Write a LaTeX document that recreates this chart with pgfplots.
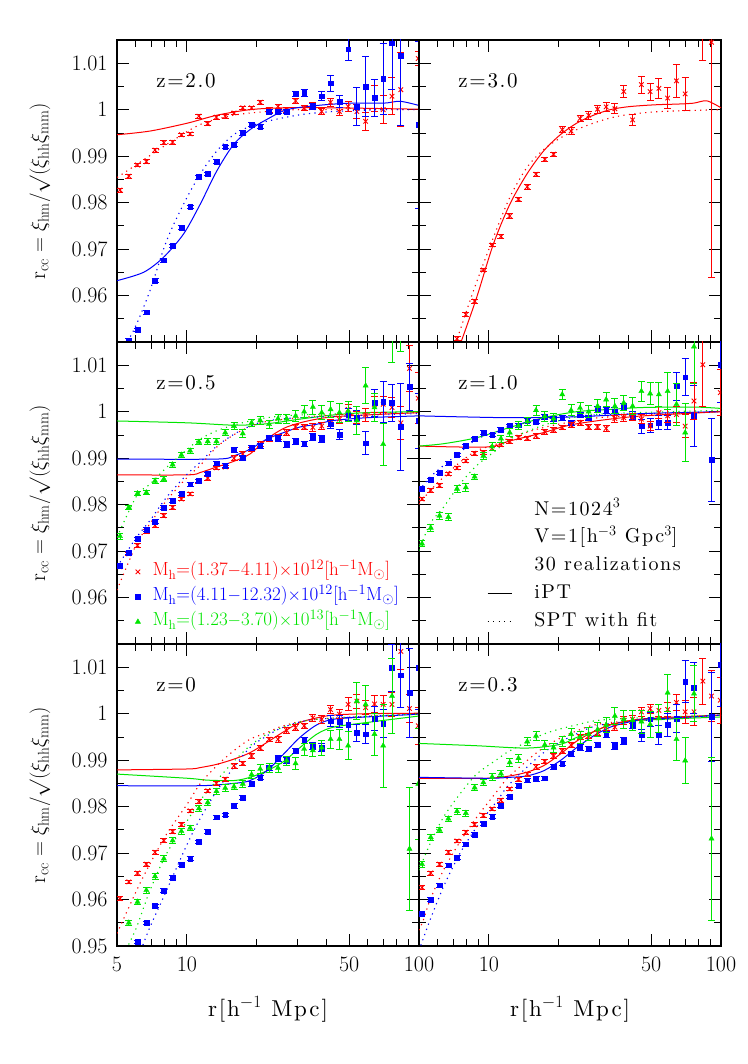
\documentclass[border=0pt]{standalone}
\usepackage{fontspec}
\newfontfamily\spaced{lmroman10-regular.otf}[LetterSpace=8]
\usepackage{pgfplots}
\pgfplotsset{compat=1.18}
\definecolor{cR}{rgb}{1,0,0}
\definecolor{cB}{rgb}{0,0,1}
\definecolor{cG}{rgb}{0,0.9,0}
\pgfplotsset{
  myPanel/.style={
    scale only axis, width=302pt, height=302pt, anchor=south west,
    xmin=5, xmax=100, ymin=0.95, ymax=1.015,
    xtick={5,10,50,100}, minor xtick={6,7,8,9,20,30,40,60,70,80,90},
    ytick={0.95,0.96,0.97,0.98,0.99,1,1.01},
    minor ytick={0.955,0.965,0.975,0.985,0.995,1.005},
    tick align=inside, xtick pos=both, ytick pos=both,
    major tick length=12pt, minor tick length=7pt,
    every tick/.style={black, line width=0.8pt},
    axis line style={line width=1.2pt},
    tick label style={font=\fontsize{22}{26}\selectfont},
    xticklabel style={yshift=-7pt},
    yticklabel style={xshift=-6pt},
    label style={font=\fontsize{22}{26}\selectfont},
    xticklabels={}, yticklabels={},
    clip marker paths=true,
  },
  myXlab/.style={xlabel={\spaced\fontsize{23}{26}\selectfont r[h$^{-1}$ Mpc]}, xlabel style={at={(axis description cs:0.5,-0.21)}, anchor=center}},
  myYlab/.style={ylabel={$\mathrm{r_{cc}}=\xi_{\mathrm{hm}}/\surd\bigl(\xi_{\mathrm{hh}}\xi_{\mathrm{mm}}\bigr)$},
     ylabel style={at={(axis description cs:-0.255,0.5)}, anchor=center}},
  mySR/.style={only marks, mark=x, mark size=3.2pt, color=cR, mark options={line width=0.9pt, solid}},
  mySB/.style={only marks, mark=square*, mark size=2.4pt, color=cB, mark options={solid}},
  mySG/.style={only marks, mark=triangle*, mark size=3pt, color=cG, mark options={solid}},
  myEB/.style={error bars/.cd, y dir=both, y explicit, error bar style={line width=0.8pt},
     error mark options={rotate=90, mark size=3.5pt, line width=0.8pt}},
  myLN/.style={line width=1pt, smooth, no marks},
  myDT/.style={line width=1.1pt, smooth, no marks, dash pattern=on 1.2pt off 4.3pt},
}
\newcommand{\zlab}[1]{\node[anchor=base west, font=\spaced\fontsize{21}{24}\selectfont] at (rel axis cs:0.119,0.842) {#1};}
\begin{document}
\begin{tikzpicture}
\path[use as bounding box] (0pt,0pt) rectangle (747pt,1064pt);

% ================= z=2.0 (top-left) =================
\begin{semilogxaxis}[myPanel, myYlab, at={(117pt,722pt)},
  yticklabels={,0.96,0.97,0.98,0.99,1,1.01}]
\addplot[cR, myLN] coordinates {(5,0.9946) (6.94,0.9954) (10.05,0.9971) (13.45,0.9988) (18.7,1.0000) (26.1,1.0004) (42.8,1.0004) (100,1.0001)};
\addplot[cR, myDT] coordinates {(5,0.9854) (6.08,0.9882) (8.18,0.9925) (11.4,0.9968) (15.9,0.9988) (22.1,0.9996) (30.7,1.0000) (100,1.0000)};
\addplot[cB, myLN] coordinates {(5,0.9632) (6.51,0.9650) (7.92,0.9682) (9.66,0.9732) (11.4,0.9796) (13.45,0.9868) (15.9,0.9925) (18.7,0.9957) (22.1,0.9979) (27,1.0000) (36.3,1.0009) (50.5,1.0014) (70.3,1.0014) (83,1.0018) (100,1.0009)};
\addplot[cB, myDT] coordinates {(5.3,0.9480) (5.6,0.9504) (6.08,0.9539) (6.94,0.9611) (8.18,0.9718) (9.66,0.9796) (11.4,0.9861) (13.45,0.9911) (15.9,0.9946) (18.7,0.9964) (22.1,0.9975) (30.7,0.9989) (42.8,0.9996) (70.3,1.0000) (100,1.0000)};
\addplot[mySR, myEB] table[x=x, y=y, y error=e, row sep=\\] {x y e\\
5.15 0.9827 0.0004\\ 5.62 0.9857 0.0004\\ 6.13 0.9881 0.0004\\ 6.69 0.9888 0.0004\\ 7.29 0.9913 0.0004\\
7.96 0.9929 0.0004\\ 8.68 0.9930 0.0004\\ 9.47 0.9946 0.0004\\ 10.33 0.9948 0.0004\\ 11.27 0.9986 0.0004\\
12.30 0.9970 0.0004\\ 13.41 0.9984 0.0004\\ 14.63 0.9986 0.0004\\ 15.96 0.9993 0.0004\\ 17.41 1.0004 0.0004\\
19.00 1.0004 0.0004\\ 20.70 1.0016 0.0004\\ 22.60 1.0000 0.0005\\ 24.70 1.0007 0.0005\\ 26.90 1.0000 0.0005\\
29.40 1.0019 0.0006\\ 32.00 1.0004 0.0006\\ 34.90 1.0009 0.0006\\ 38.10 0.9996 0.0007\\ 41.60 1.0016 0.0008\\
45.40 0.9996 0.0009\\ 49.50 1.0007 0.0010\\ 54.00 0.9996 0.0015\\ 58.90 0.9975 0.0020\\ 64.30 1.0025 0.0028\\
70.10 1.0000 0.0030\\ 76.50 1.0029 0.0040\\ 83.50 1.0043 0.0080\\ 99.30 1.0110 0.0015\\
};
\addplot[mySB, myEB] table[x=x, y=y, y error=e, row sep=\\] {x y e\\
5.62 0.9504 0.0004\\ 6.13 0.9526 0.0004\\ 6.69 0.9564 0.0004\\ 7.29 0.9632 0.0004\\ 7.96 0.9676 0.0004\\
8.68 0.9707 0.0004\\ 9.47 0.9746 0.0004\\ 10.33 0.9791 0.0004\\ 11.27 0.9855 0.0004\\ 12.30 0.9862 0.0004\\
13.41 0.9888 0.0004\\ 14.63 0.9920 0.0004\\ 15.96 0.9925 0.0004\\ 17.41 0.9950 0.0005\\ 19.00 0.9968 0.0005\\
20.70 0.9964 0.0005\\ 22.60 0.9996 0.0005\\ 24.70 0.9996 0.0005\\ 26.90 0.9996 0.0005\\ 29.40 1.0034 0.0006\\
32.00 1.0036 0.0008\\ 34.90 1.0007 0.0006\\ 38.10 1.0029 0.0010\\ 41.60 1.0057 0.0017\\ 45.40 1.0018 0.0013\\
49.50 1.0130 0.0023\\ 54.00 1.0007 0.0040\\ 58.90 1.0050 0.0065\\ 64.30 1.0025 0.0040\\ 70.10 1.0066 0.0077\\
76.50 1.0143 0.0100\\ 83.50 1.0116 0.0150\\ 99.30 0.9968 0.0180\\
};
\zlab{z=2.0}
\end{semilogxaxis}

% ================= z=3.0 (top-right) =================
\begin{semilogxaxis}[myPanel, at={(419pt,722pt)}]
\addplot[cR, myLN] coordinates {(7.3,0.9478) (7.64,0.9504) (8.86,0.9596) (10.46,0.9711) (12.3,0.9796) (14.56,0.9861) (17.2,0.9911) (20.3,0.9946) (23.9,0.9971) (28.2,0.9988) (33.3,1.0000) (39.3,1.0006) (46.3,1.0009) (54.7,1.0011) (64.5,1.0012) (76.1,1.0014) (86.9,1.0019) (100,1.0004)};
\addplot[cR, myDT] coordinates {(6.9,0.9475) (7.27,0.9504) (8.58,0.9610) (10.46,0.9725) (12.3,0.9811) (14.56,0.9875) (17.2,0.9914) (20.3,0.9939) (23.9,0.9957) (28.2,0.9971) (33.3,0.9982) (39.3,0.9989) (54.7,0.9996) (100,1.0000)};
\addplot[mySR, myEB] table[x=x, y=y, y error=e, row sep=\\] {x y e\\
7.29 0.9507 0.0004\\ 7.96 0.9559 0.0004\\ 8.68 0.9588 0.0004\\ 9.47 0.9655 0.0004\\ 10.33 0.9709 0.0004\\
11.27 0.9727 0.0004\\ 12.30 0.9771 0.0005\\ 13.41 0.9807 0.0005\\ 14.63 0.9834 0.0005\\ 15.96 0.9861 0.0005\\
17.41 0.9893 0.0005\\ 19.00 0.9904 0.0005\\ 20.70 0.9957 0.0006\\ 22.60 0.9954 0.0007\\ 24.70 0.9981 0.0007\\
26.90 0.9988 0.0008\\ 29.40 1.0001 0.0009\\ 32.00 1.0006 0.0009\\ 34.90 1.0002 0.0011\\ 38.10 1.0039 0.0013\\
41.60 0.9978 0.0012\\ 45.40 1.0054 0.0018\\ 49.50 1.0039 0.0018\\ 54.00 1.0046 0.0022\\ 58.90 1.0025 0.0022\\
64.30 1.0062 0.0035\\ 70.10 1.0034 0.0036\\ 83.50 1.0165 0.0060\\ 91.00 1.0145 0.0507\\
};
\zlab{z=3.0}
\end{semilogxaxis}

% ================= z=0.5 (middle-left) =================
\begin{semilogxaxis}[myPanel, myYlab, at={(117pt,420pt)},
  yticklabels={,0.96,0.97,0.98,0.99,1,1.01},
  legend cell align=left,
  legend image code/.code={\draw[mark repeat=1,#1] plot coordinates {(0pt,0pt)};},
  legend style={draw=none, fill=none, inner sep=0pt, at={(axis description cs:0.06,0.276)}, anchor=north west,
    font=\fontsize{19}{22}\selectfont, row sep=3pt,
    nodes={inner sep=2pt, text height=13pt, text depth=5pt},
    /tikz/every odd column/.append style={column sep=10pt}}]
\addlegendimage{only marks, mark=x, mark size=3.2pt, color=cR, mark options={line width=0.9pt}}
\addlegendentry{\textcolor{cR}{M$_{\mathrm{h}}$=(1.37$-$4.11)$\times$10$^{12}$[h$^{-1}$M$_{\odot}$]}}
\addlegendimage{only marks, mark=square*, mark size=2.4pt, color=cB}
\addlegendentry{\textcolor{cB}{M$_{\mathrm{h}}$=(4.11$-$12.32)$\times$10$^{12}$[h$^{-1}$M$_{\odot}$]}}
\addlegendimage{only marks, mark=triangle*, mark size=3pt, color=cG}
\addlegendentry{\textcolor{cG}{M$_{\mathrm{h}}$=(1.23$-$3.70)$\times$10$^{13}$[h$^{-1}$M$_{\odot}$]}}
\addplot[cR, myLN] coordinates {(5,0.9864) (10.05,0.9864) (11.4,0.9869) (13.45,0.9881) (15.9,0.9893) (18.7,0.9909) (22.1,0.9941) (26.1,0.9964) (30.7,0.9976) (36.3,0.9984) (42.8,0.9989) (59.6,0.9993) (100,0.9998)};
\addplot[cB, myLN] coordinates {(5,0.9898) (13.45,0.9898) (15.9,0.9905) (18.7,0.9919) (22.1,0.9941) (26.1,0.9955) (30.7,0.9967) (36.3,0.9973) (42.8,0.9981) (59.6,0.9987) (100,0.9991)};
\addplot[cG, myLN] coordinates {(5,0.9980) (10.05,0.9976) (15.9,0.9971) (22.1,0.9974) (30.7,0.9984) (42.8,0.9993) (59.6,0.9998) (100,1.0000)};
\addplot[cR, myDT] coordinates {(5,0.9616) (6.08,0.9716) (6.94,0.9759) (8.18,0.9809) (10.05,0.9859) (11.4,0.9884) (13.45,0.9924) (15.9,0.9950) (18.7,0.9968) (22.1,0.9979) (30.7,0.9987) (42.8,0.9993) (100,0.9998)};
\addplot[cB, myDT] coordinates {(5,0.9666) (6.08,0.9730) (6.94,0.9766) (8.18,0.9816) (10.05,0.9866) (11.4,0.9891) (13.45,0.9926) (15.9,0.9951) (18.7,0.9969) (22.1,0.9980) (30.7,0.9987) (100,0.9996)};
\addplot[cG, myDT] coordinates {(5,0.9730) (6.08,0.9819) (6.94,0.9844) (8.18,0.9880) (10.05,0.9919) (11.4,0.9941) (13.45,0.9959) (15.9,0.9971) (18.7,0.9980) (22.1,0.9987) (30.7,0.9993) (100,1.0000)};
\addplot[mySR, myEB] table[x=x, y=y, y error=e, row sep=\\] {x y e\\
5.15 0.9666 0.0004\\ 5.62 0.9694 0.0004\\ 6.13 0.9712 0.0004\\ 6.69 0.9742 0.0004\\ 7.29 0.9755 0.0004\\
7.96 0.9776 0.0004\\ 8.68 0.9794 0.0004\\ 9.47 0.9812 0.0004\\ 10.33 0.9823 0.0004\\ 11.27 0.9850 0.0004\\
12.30 0.9857 0.0004\\ 13.41 0.9879 0.0004\\ 14.63 0.9881 0.0004\\ 15.96 0.9900 0.0005\\ 17.41 0.9909 0.0005\\
19.00 0.9919 0.0005\\ 20.70 0.9930 0.0005\\ 22.60 0.9941 0.0005\\ 24.70 0.9946 0.0006\\ 26.90 0.9955 0.0006\\
29.40 0.9967 0.0006\\ 32.00 0.9967 0.0006\\ 34.90 0.9966 0.0008\\ 38.10 0.9969 0.0008\\ 41.60 0.9976 0.0008\\
45.40 0.9984 0.0010\\ 49.50 1.0005 0.0010\\ 54.00 0.9987 0.0013\\ 58.90 0.9993 0.0013\\ 64.30 1.0016 0.0017\\
70.10 1.0016 0.0017\\ 76.50 1.0009 0.0022\\ 83.50 0.9976 0.0035\\ 91.00 1.0093 0.0050\\ 99.30 1.0029 0.0055\\
};
\addplot[mySB, myEB] table[x=x, y=y, y error=e, row sep=\\] {x y e\\
5.15 0.9669 0.0004\\ 5.62 0.9696 0.0004\\ 6.13 0.9726 0.0004\\ 6.69 0.9746 0.0004\\ 7.29 0.9764 0.0004\\
7.96 0.9794 0.0004\\ 8.68 0.9809 0.0004\\ 9.47 0.9823 0.0004\\ 10.33 0.9844 0.0004\\ 11.27 0.9851 0.0004\\
12.30 0.9866 0.0004\\ 13.41 0.9889 0.0004\\ 14.63 0.9884 0.0004\\ 15.96 0.9918 0.0005\\ 17.41 0.9901 0.0005\\
19.00 0.9923 0.0005\\ 20.70 0.9926 0.0005\\ 22.60 0.9944 0.0005\\ 24.70 0.9943 0.0006\\ 26.90 0.9930 0.0006\\
29.40 0.9936 0.0006\\ 32.00 0.9931 0.0006\\ 34.90 0.9946 0.0008\\ 38.10 0.9941 0.0008\\ 41.60 0.9973 0.0008\\
45.40 0.9951 0.0010\\ 49.50 0.9994 0.0012\\ 54.00 0.9987 0.0015\\ 58.90 0.9932 0.0025\\ 64.30 1.0019 0.0030\\
70.10 1.0021 0.0045\\ 76.50 1.0019 0.0040\\ 83.50 0.9967 0.0093\\ 91.00 1.0053 0.0050\\ 99.30 0.9980 0.0060\\
};
\addplot[mySG, myEB] table[x=x, y=y, y error=e, row sep=\\] {x y e\\
5.15 0.9732 0.0007\\ 5.62 0.9794 0.0005\\ 6.13 0.9824 0.0005\\ 6.69 0.9826 0.0005\\ 7.29 0.9851 0.0005\\
7.96 0.9855 0.0005\\ 8.68 0.9886 0.0005\\ 9.47 0.9907 0.0006\\ 10.33 0.9916 0.0006\\ 11.27 0.9935 0.0006\\
12.30 0.9936 0.0006\\ 13.41 0.9936 0.0006\\ 14.63 0.9955 0.0007\\ 15.96 0.9969 0.0007\\ 17.41 0.9953 0.0008\\
19.00 0.9976 0.0008\\ 20.70 0.9981 0.0009\\ 22.60 0.9973 0.0009\\ 24.70 0.9985 0.0010\\ 26.90 0.9985 0.0010\\
29.40 0.9991 0.0012\\ 32.00 1.0000 0.0013\\ 34.90 1.0010 0.0015\\ 38.10 0.9998 0.0015\\ 41.60 1.0005 0.0018\\
45.40 0.9998 0.0020\\ 49.50 1.0001 0.0022\\ 54.00 0.9981 0.0030\\ 58.90 1.0056 0.0039\\ 64.30 1.0009 0.0030\\
70.10 0.9930 0.0045\\ 76.50 1.0180 0.0075\\ 83.50 1.0200 0.0070\\
};
\zlab{z=0.5}
\end{semilogxaxis}

% ================= z=1.0 (middle-right) =================
\begin{semilogxaxis}[myPanel, at={(419pt,420pt)},
  legend cell align=left,
  legend image code/.code={\draw[#1] (0pt,0pt) -- (24pt,0pt);},
  legend style={draw=none, fill=none, inner sep=0pt, at={(axis description cs:0.225,0.48)}, anchor=north west,
    font=\spaced\fontsize{20}{24}\selectfont, row sep=4.7pt,
    nodes={inner sep=2pt, text height=14pt, text depth=5pt},
    /tikz/every odd column/.append style={column sep=20pt}}]
\addlegendimage{empty legend}\addlegendentry{N=1024$^{3}$}
\addlegendimage{empty legend}\addlegendentry{V=1[h$^{-3}$ Gpc$^{3}$]}
\addlegendimage{empty legend}\addlegendentry{30 realizations}
\addlegendimage{black, line width=1pt}\addlegendentry{iPT}
\addlegendimage{black, line width=1.1pt, dash pattern=on 1.2pt off 4.3pt}\addlegendentry{SPT with fit}
\addplot[cB, myLN] coordinates {(5,0.9991) (12.3,0.9987) (23.9,0.9989) (46.3,0.9996) (100,1.0000)};
\addplot[cR, myLN] coordinates {(5,0.9926) (9.8,0.9924) (12.3,0.9937) (17.2,0.9955) (20.3,0.9966) (23.9,0.9974) (33.3,0.9984) (46.3,0.9991) (100,1.0000)};
\addplot[cG, myLN] coordinates {(5,0.9926) (6.37,0.9931) (8.86,0.9944) (12.3,0.9966) (17.2,0.9987) (23.9,1.0000) (33.3,1.0005) (46.3,1.0009) (76.1,1.0010) (100,1.0007)};
\addplot[cB, myDT] coordinates {(5,0.9830) (5.58,0.9859) (6.37,0.9884) (7.5,0.9912) (8.86,0.9941) (10.88,0.9957) (12.3,0.9969) (17.2,0.9984) (23.9,0.9991) (33.3,0.9994) (100,1.0000)};
\addplot[cR, myDT] coordinates {(5,0.9801) (5.58,0.9830) (6.37,0.9859) (7.5,0.9891) (8.86,0.9916) (10.88,0.9931) (12.3,0.9944) (17.2,0.9966) (23.9,0.9980) (33.3,0.9989) (100,1.0000)};
\addplot[cG, myDT] coordinates {(5,0.9701) (5.58,0.9759) (6.37,0.9794) (7.5,0.9844) (8.86,0.9884) (10.88,0.9919) (12.3,0.9941) (17.2,0.9971) (23.9,0.9989) (33.3,0.9996) (100,1.0003)};
\addplot[mySB, myEB] table[x=x, y=y, y error=e, row sep=\\] {x y e\\
5.15 0.9834 0.0004\\ 5.62 0.9853 0.0004\\ 6.13 0.9868 0.0004\\ 6.69 0.9889 0.0004\\ 7.29 0.9907 0.0004\\
7.96 0.9926 0.0004\\ 8.68 0.9941 0.0004\\ 9.47 0.9955 0.0004\\ 10.33 0.9950 0.0004\\ 11.27 0.9962 0.0004\\
12.30 0.9969 0.0004\\ 13.41 0.9971 0.0004\\ 14.63 0.9981 0.0004\\ 15.96 0.9979 0.0005\\ 17.41 0.9989 0.0005\\
19.00 0.9984 0.0005\\ 20.70 0.9987 0.0005\\ 22.60 0.9976 0.0005\\ 24.70 0.9993 0.0006\\ 26.90 0.9987 0.0006\\
29.40 1.0005 0.0006\\ 32.00 1.0003 0.0006\\ 34.90 1.0001 0.0008\\ 38.10 1.0010 0.0008\\ 41.60 0.9992 0.0008\\
45.40 0.9969 0.0015\\ 49.50 0.9971 0.0015\\ 54.00 0.9976 0.0015\\ 58.90 0.9976 0.0015\\ 64.30 1.0055 0.0030\\
70.10 1.0074 0.0040\\ 76.50 0.9991 0.0065\\ 91.00 0.9896 0.0090\\ 99.30 1.0101 0.0080\\
};
\addplot[mySR, myEB] table[x=x, y=y, y error=e, row sep=\\] {x y e\\
5.15 0.9812 0.0004\\ 5.62 0.9831 0.0004\\ 6.13 0.9841 0.0004\\ 6.69 0.9866 0.0004\\ 7.29 0.9879 0.0004\\
7.96 0.9894 0.0004\\ 8.68 0.9910 0.0004\\ 9.47 0.9912 0.0004\\ 10.33 0.9921 0.0004\\ 11.27 0.9929 0.0004\\
12.30 0.9936 0.0004\\ 13.41 0.9944 0.0004\\ 14.63 0.9943 0.0004\\ 15.96 0.9948 0.0005\\ 17.41 0.9957 0.0005\\
19.00 0.9961 0.0005\\ 20.70 0.9966 0.0005\\ 22.60 0.9971 0.0005\\ 24.70 0.9976 0.0006\\ 26.90 0.9967 0.0006\\
29.40 0.9967 0.0006\\ 32.00 0.9964 0.0006\\ 34.90 0.9985 0.0008\\ 38.10 0.9987 0.0008\\ 41.60 0.9989 0.0008\\
45.40 0.9984 0.0010\\ 49.50 0.9969 0.0010\\ 54.00 0.9998 0.0013\\ 58.90 0.9991 0.0013\\ 64.30 0.9994 0.0017\\
70.10 0.9969 0.0025\\ 76.50 1.0023 0.0040\\ 83.50 1.0101 0.0090\\ 99.30 1.0041 0.0050\\
};
\addplot[mySG, myEB] table[x=x, y=y, y error=e, row sep=\\] {x y e\\
5.15 0.9716 0.0006\\ 5.62 0.9750 0.0008\\ 6.13 0.9776 0.0008\\ 6.69 0.9773 0.0008\\ 7.29 0.9834 0.0008\\
7.96 0.9837 0.0008\\ 8.68 0.9860 0.0006\\ 9.47 0.9905 0.0008\\ 10.33 0.9925 0.0008\\ 11.27 0.9942 0.0008\\
12.30 0.9955 0.0009\\ 13.41 0.9970 0.0009\\ 14.63 0.9979 0.0009\\ 15.96 1.0003 0.0010\\ 17.41 0.9990 0.0010\\
19.00 0.9985 0.0011\\ 20.70 1.0037 0.0011\\ 22.60 1.0003 0.0012\\ 24.70 1.0008 0.0012\\ 26.90 1.0000 0.0013\\
29.40 1.0012 0.0014\\ 32.00 1.0026 0.0015\\ 34.90 1.0012 0.0016\\ 38.10 1.0019 0.0017\\ 41.60 1.0012 0.0018\\
45.40 1.0044 0.0022\\ 49.50 1.0039 0.0024\\ 54.00 1.0037 0.0026\\ 58.90 1.0044 0.0040\\ 64.30 1.0016 0.0045\\
70.10 0.9955 0.0062\\ 76.50 1.0140 0.0080\\
};
\zlab{z=1.0}
\end{semilogxaxis}

% ================= z=0 (bottom-left) =================
\begin{semilogxaxis}[myPanel, myYlab, myXlab, at={(117pt,118pt)},
  yticklabels={0.95,0.96,0.97,0.98,0.99,1,1.01}, xticklabels={5,10,50,100}]
\addplot[cR, myLN] coordinates {(5,0.9879) (10.05,0.9881) (11.4,0.9884) (13.45,0.9891) (15.9,0.9902) (18.7,0.9916) (22.1,0.9938) (26.1,0.9961) (30.7,0.9981) (36.3,0.9991) (42.8,0.9997) (59.6,1.0000) (100,1.0001)};
\addplot[cG, myLN] coordinates {(5,0.9870) (10.05,0.9861) (12.2,0.9857) (15.9,0.9856) (18.7,0.9863) (22.1,0.9877) (26.1,0.9897) (30.7,0.9927) (36.3,0.9956) (42.8,0.9971) (59.6,0.9981) (100,0.9995)};
\addplot[cB, myLN] coordinates {(5,0.9845) (11.4,0.9845) (15.9,0.9850) (18.7,0.9856) (22.1,0.9877) (26.1,0.9913) (30.7,0.9949) (36.3,0.9976) (42.8,0.9988) (59.6,0.9993) (100,0.9999)};
\addplot[cR, myDT] coordinates {(5,0.9527) (6.08,0.9620) (6.94,0.9677) (8.18,0.9741) (10.05,0.9806) (11.4,0.9849) (13.45,0.9888) (15.9,0.9920) (18.7,0.9945) (22.1,0.9959) (26.1,0.9974) (36.3,0.9988) (100,1.0000)};
\addplot[cG, myDT] coordinates {(5.3,0.9470) (5.6,0.9502) (6.08,0.9541) (6.94,0.9620) (8.18,0.9699) (10.05,0.9770) (11.4,0.9813) (13.45,0.9856) (15.9,0.9897) (18.7,0.9931) (22.1,0.9956) (26.1,0.9971) (36.3,0.9988) (100,0.9999)};
\addplot[cB, myDT] coordinates {(6.2,0.9480) (6.51,0.9506) (6.94,0.9541) (8.18,0.9620) (10.05,0.9720) (11.4,0.9774) (13.45,0.9834) (15.9,0.9884) (18.7,0.9927) (22.1,0.9952) (26.1,0.9971) (36.3,0.9988) (100,0.9999)};
\addplot[mySR, myEB] table[x=x, y=y, y error=e, row sep=\\] {x y e\\
5.15 0.9602 0.0004\\ 5.62 0.9638 0.0004\\ 6.13 0.9657 0.0004\\ 6.69 0.9676 0.0004\\ 7.29 0.9702 0.0004\\
7.96 0.9727 0.0004\\ 8.68 0.9746 0.0004\\ 9.47 0.9761 0.0004\\ 10.33 0.9791 0.0004\\ 11.27 0.9811 0.0004\\
12.30 0.9834 0.0004\\ 13.41 0.9850 0.0004\\ 14.63 0.9859 0.0004\\ 15.96 0.9888 0.0005\\ 17.41 0.9893 0.0005\\
19.00 0.9909 0.0005\\ 20.70 0.9926 0.0005\\ 22.60 0.9945 0.0005\\ 24.70 0.9945 0.0006\\ 26.90 0.9964 0.0006\\
29.40 0.9970 0.0006\\ 32.00 0.9974 0.0006\\ 34.90 0.9991 0.0008\\ 38.10 0.9988 0.0008\\ 41.60 1.0009 0.0008\\
45.40 0.9999 0.0010\\ 49.50 1.0020 0.0014\\ 54.00 1.0027 0.0015\\ 58.90 1.0013 0.0015\\ 64.30 1.0021 0.0018\\
70.10 1.0020 0.0020\\ 76.50 1.0020 0.0025\\ 83.50 1.0134 0.0038\\ 91.00 1.0011 0.0030\\ 99.30 0.9974 0.0040\\
};
\addplot[mySB, myEB] table[x=x, y=y, y error=e, row sep=\\] {x y e\\
6.13 0.9509 0.0004\\ 6.69 0.9550 0.0004\\ 7.29 0.9586 0.0004\\ 7.96 0.9619 0.0004\\ 8.68 0.9647 0.0004\\
9.47 0.9675 0.0004\\ 10.33 0.9688 0.0004\\ 11.27 0.9724 0.0004\\ 12.30 0.9746 0.0004\\ 13.41 0.9777 0.0004\\
14.63 0.9782 0.0004\\ 15.96 0.9801 0.0005\\ 17.41 0.9820 0.0005\\ 19.00 0.9849 0.0005\\ 20.70 0.9863 0.0005\\
22.60 0.9883 0.0005\\ 24.70 0.9904 0.0006\\ 26.90 0.9900 0.0006\\ 29.40 0.9920 0.0006\\ 32.00 0.9943 0.0006\\
34.90 0.9931 0.0008\\ 38.10 0.9927 0.0008\\ 41.60 0.9984 0.0012\\ 45.40 0.9983 0.0013\\ 49.50 0.9976 0.0015\\
54.00 0.9959 0.0018\\ 58.90 0.9956 0.0020\\ 64.30 0.9990 0.0025\\ 70.10 0.9979 0.0030\\ 76.50 1.0099 0.0050\\
83.50 1.0083 0.0070\\ 91.00 1.0045 0.0095\\ 99.30 1.0099 0.0090\\
};
\addplot[mySG, myEB] table[x=x, y=y, y error=e, row sep=\\] {x y e\\
5.62 0.9550 0.0006\\ 6.13 0.9595 0.0006\\ 6.69 0.9620 0.0006\\ 7.29 0.9650 0.0006\\ 7.96 0.9688 0.0006\\
8.68 0.9727 0.0006\\ 9.47 0.9747 0.0006\\ 10.33 0.9754 0.0006\\ 11.27 0.9796 0.0006\\ 12.30 0.9809 0.0006\\
13.41 0.9833 0.0007\\ 14.63 0.9840 0.0007\\ 15.96 0.9843 0.0007\\ 17.41 0.9849 0.0008\\ 19.00 0.9869 0.0008\\
20.70 0.9881 0.0009\\ 22.60 0.9883 0.0009\\ 24.70 0.9883 0.0010\\ 26.90 0.9899 0.0010\\ 29.40 0.9893 0.0012\\
32.00 0.9924 0.0013\\ 34.90 0.9921 0.0014\\ 38.10 0.9927 0.0016\\ 41.60 0.9945 0.0020\\ 45.40 0.9945 0.0022\\
49.50 0.9931 0.0030\\ 54.00 1.0027 0.0040\\ 58.90 1.0020 0.0040\\ 64.30 0.9956 0.0045\\ 70.10 0.9931 0.0090\\
76.50 1.0038 0.0080\\ 91.00 0.9709 0.0132\\ 99.30 0.9849 0.0120\\
};
\zlab{z=0}
\end{semilogxaxis}

% ================= z=0.3 (bottom-right) =================
\begin{semilogxaxis}[myPanel, myXlab, at={(419pt,118pt)}, xticklabels={,10,50,100}]
\addplot[cG, myLN] coordinates {(5,0.9936) (8.86,0.9931) (14.56,0.9926) (20.3,0.9934) (23.9,0.9949) (28.2,0.9961) (33.3,0.9976) (39.3,0.9983) (46.3,0.9986) (100,0.9993)};
\addplot[cR, myLN] coordinates {(5,0.9861) (9.8,0.9861) (12.3,0.9866) (14.56,0.9874) (17.2,0.9888) (20.3,0.9913) (23.9,0.9941) (28.2,0.9961) (33.3,0.9976) (39.3,0.9984) (46.3,0.9989) (64.5,0.9993) (100,0.9997)};
\addplot[cB, myLN] coordinates {(5,0.9863) (9.8,0.9861) (12.3,0.9863) (14.56,0.9866) (17.2,0.9877) (20.3,0.9899) (23.9,0.9927) (28.2,0.9952) (33.3,0.9971) (39.3,0.9981) (46.3,0.9988) (64.5,0.9991) (100,0.9997)};
\addplot[cG, myDT] coordinates {(5,0.9663) (5.58,0.9720) (6.37,0.9777) (7.5,0.9827) (8.86,0.9870) (10.88,0.9902) (12.3,0.9920) (17.2,0.9956) (23.9,0.9976) (33.3,0.9988) (100,0.9997)};
\addplot[cR, myDT] coordinates {(5,0.9534) (5.22,0.9556) (5.58,0.9599) (6.37,0.9663) (7.5,0.9724) (8.86,0.9777) (10.88,0.9834) (12.3,0.9866) (17.2,0.9927) (23.9,0.9963) (33.3,0.9981) (100,0.9997)};
\addplot[cB, myDT] coordinates {(5.0,0.9490) (5.13,0.9506) (5.58,0.9556) (6.37,0.9627) (7.5,0.9699) (8.86,0.9756) (10.88,0.9813) (12.3,0.9849) (17.2,0.9916) (23.9,0.9957) (33.3,0.9979) (100,0.9997)};
\addplot[mySR, myEB] table[x=x, y=y, y error=e, row sep=\\] {x y e\\
5.15 0.9626 0.0004\\ 5.62 0.9657 0.0004\\ 6.13 0.9676 0.0004\\ 6.69 0.9702 0.0004\\ 7.29 0.9726 0.0004\\
7.96 0.9745 0.0004\\ 8.68 0.9761 0.0004\\ 9.47 0.9781 0.0004\\ 10.33 0.9795 0.0004\\ 11.27 0.9814 0.0004\\
12.30 0.9838 0.0004\\ 13.41 0.9859 0.0004\\ 14.63 0.9870 0.0004\\ 15.96 0.9886 0.0005\\ 17.41 0.9897 0.0005\\
19.00 0.9909 0.0005\\ 20.70 0.9920 0.0005\\ 22.60 0.9933 0.0005\\ 24.70 0.9950 0.0006\\ 26.90 0.9952 0.0006\\
29.40 0.9959 0.0006\\ 32.00 0.9971 0.0006\\ 34.90 0.9971 0.0008\\ 38.10 0.9986 0.0008\\ 41.60 0.9988 0.0008\\
45.40 1.0004 0.0010\\ 49.50 1.0011 0.0010\\ 54.00 1.0007 0.0013\\ 58.90 1.0009 0.0015\\ 64.30 1.0024 0.0018\\
70.10 1.0004 0.0025\\ 76.50 1.0004 0.0030\\ 83.50 1.0070 0.0050\\ 91.00 1.0038 0.0055\\ 99.30 1.0029 0.0050\\
};
\addplot[mySB, myEB] table[x=x, y=y, y error=e, row sep=\\] {x y e\\
5.15 0.9570 0.0004\\ 5.62 0.9600 0.0004\\ 6.13 0.9631 0.0004\\ 6.69 0.9674 0.0004\\ 7.29 0.9690 0.0004\\
7.96 0.9719 0.0004\\ 8.68 0.9740 0.0004\\ 9.47 0.9763 0.0004\\ 10.33 0.9779 0.0004\\ 11.27 0.9802 0.0004\\
12.30 0.9821 0.0004\\ 13.41 0.9845 0.0004\\ 14.63 0.9857 0.0004\\ 15.96 0.9859 0.0005\\ 17.41 0.9861 0.0005\\
19.00 0.9886 0.0005\\ 20.70 0.9893 0.0005\\ 22.60 0.9913 0.0005\\ 24.70 0.9927 0.0006\\ 26.90 0.9924 0.0006\\
29.40 0.9933 0.0006\\ 32.00 0.9956 0.0006\\ 34.90 0.9931 0.0008\\ 38.10 0.9941 0.0008\\ 41.60 0.9976 0.0008\\
45.40 0.9954 0.0013\\ 49.50 0.9988 0.0015\\ 54.00 0.9954 0.0020\\ 58.90 0.9976 0.0025\\ 64.30 0.9990 0.0030\\
70.10 1.0069 0.0045\\ 76.50 1.0056 0.0055\\ 91.00 0.9993 0.0095\\ 99.30 1.0106 0.0090\\
};
\addplot[mySG, myEB] table[x=x, y=y, y error=e, row sep=\\] {x y e\\
5.15 0.9676 0.0007\\ 5.62 0.9734 0.0006\\ 6.13 0.9750 0.0006\\ 6.69 0.9774 0.0006\\ 7.29 0.9790 0.0006\\
7.96 0.9786 0.0006\\ 8.68 0.9841 0.0006\\ 9.47 0.9852 0.0006\\ 10.33 0.9864 0.0007\\ 11.27 0.9871 0.0007\\
12.30 0.9895 0.0008\\ 13.41 0.9904 0.0008\\ 14.63 0.9940 0.0009\\ 15.96 0.9952 0.0009\\ 17.41 0.9933 0.0010\\
19.00 0.9927 0.0010\\ 20.70 0.9941 0.0011\\ 22.60 0.9956 0.0012\\ 24.70 0.9949 0.0013\\ 26.90 0.9956 0.0014\\
29.40 0.9966 0.0015\\ 32.00 0.9976 0.0016\\ 34.90 0.9995 0.0018\\ 38.10 0.9988 0.0020\\ 41.60 0.9986 0.0022\\
45.40 0.9983 0.0025\\ 49.50 0.9977 0.0028\\ 54.00 0.9990 0.0030\\ 58.90 1.0045 0.0040\\ 64.30 0.9945 0.0045\\
70.10 0.9899 0.0050\\ 76.50 1.0043 0.0060\\ 91.00 0.9731 0.0175\\
};
\zlab{z=0.3}
\end{semilogxaxis}
\end{tikzpicture}
\end{document}
